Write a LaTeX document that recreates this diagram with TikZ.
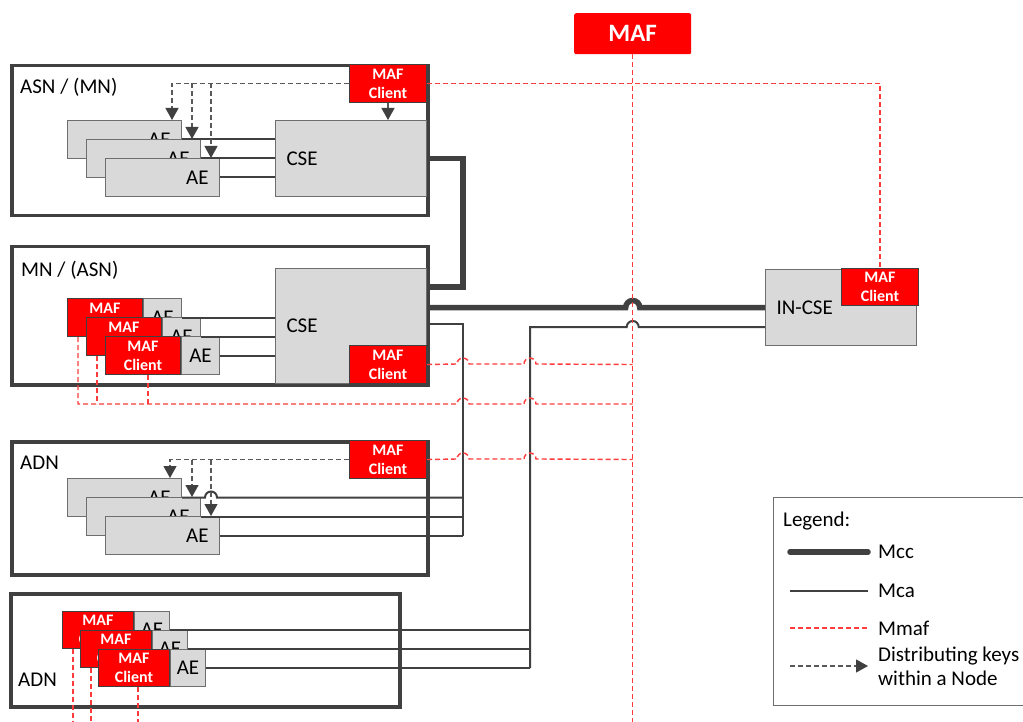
\documentclass[tikz,border=0pt]{standalone}
\usepackage{fontspec}
\setmainfont{Carlito}
\usetikzlibrary{arrows.meta,positioning,calc}

\definecolor{linegray}{HTML}{404040}
\definecolor{edgegray}{HTML}{6E6E6E}
\definecolor{boxgray}{HTML}{D9D9D9}
\definecolor{mafred}{HTML}{FF0000}
\definecolor{mmafred}{HTML}{FF3B3B}
\definecolor{keygray}{HTML}{595959}
\newcommand\mafclientfont{\fontsize{16}{19}\selectfont\bfseries}

\tikzset{
  nodebox/.style={draw=linegray, line width=3.5pt, anchor=north west, inner sep=0pt},
  csebox/.style={draw=edgegray, fill=boxgray, line width=1pt, anchor=north west,
    text width=129pt, inner xsep=11pt, inner ysep=0pt, align=left},
  aebox/.style={draw=edgegray, fill=boxgray, line width=1pt, anchor=north west,
    text width=92pt, inner xsep=11pt, inner ysep=0pt, minimum height=38pt, align=right},
  aesmall/.style={draw=edgegray, fill=boxgray, line width=1pt, anchor=north west,
    inner sep=0pt, minimum width=38pt, minimum height=38pt},
  mafae/.style={draw=linegray, fill=mafred, text=white, line width=1pt, anchor=north west,
    inner sep=0pt, minimum width=75pt, minimum height=38pt, align=center, font=\mafclientfont},
  mafclient/.style={mafae, minimum width=77pt},
  nodelabel/.style={anchor=west, inner sep=0pt},
  mcc/.style={draw=linegray, line width=5.5pt},
  mca/.style={draw=linegray, line width=2pt},
  mmaf/.style={draw=mmafred, line width=1.4pt, dash pattern=on 5pt off 3pt},
  keyline/.style={draw=keygray, line width=1.2pt, dash pattern=on 5pt off 3pt,
    -{Triangle[length=12pt,width=13pt,fill=linegray,color=linegray]}}
}

\begin{document}
\begin{tikzpicture}[x=1pt,y=-1pt,font=\fontsize{21}{24}\selectfont]
\useasboundingbox (0,0) rectangle (1023,722);

% MAF
\node[fill=mafred, rounded corners=2pt, anchor=north west, minimum width=117pt, minimum height=41pt,
  text=white, font=\fontsize{25}{28}\selectfont\bfseries] (maf) at (574,13) {MAF};
\coordinate (busa) at (463,0);
\coordinate (busb) at (530,0);

% ASN / (MN)
\node[nodebox, minimum width=416pt, minimum height=150pt] (asn) at (10,64) {};
\node[nodelabel] (asnlabel) at (20,87) {ASN / (MN)};
\node[csebox, minimum height=76pt] (cse1) at (275,120) {CSE};
\node[aebox] (ae1) at (67,120) {AE};
\node[aebox] (ae2) at (86,139) {AE};
\node[aebox] (ae3) at (105,158) {AE};
\node[mafclient] (mc1) at (349,64) {MAF\\Client};
\draw[mca] (ae1.east) -- (ae1.east -| cse1.west);
\draw[mca] (ae2.east) -- (ae2.east -| cse1.west);
\draw[mca] (ae3.east) -- (ae3.east -| cse1.west);
\coordinate (k1) at ([xshift=-10pt]ae1.north east);
\coordinate (k2) at ([xshift=-9pt]ae2.north east);
\coordinate (k3) at ([xshift=-9pt]ae3.north east);
\draw[keyline] (mc1.west) -| (k1);
\draw[keyline] (k2 |- mc1.west) -- (k2);
\draw[keyline] (k3 |- mc1.west) -- (k3);
\draw[keyline] (mc1.south) -- (mc1.south |- cse1.north);

% MN / (ASN)
\node[nodebox, minimum width=416pt, minimum height=138pt] (mn) at (10,245) {};
\node[nodelabel] (mnlabel) at (21,270) {MN / (ASN)};
\node[csebox, minimum height=115pt] (cse2) at (275,268) {CSE};
\node[mafclient] (mc2) at (349,345) {MAF\\Client};
\node[mafae] (mr1) at (67,298) {MAF\\Client};
\node[aesmall, right=0pt of mr1] (me1) {AE};
\node[mafae] (mr2) at (86,317) {MAF\\Client};
\node[aesmall, right=0pt of mr2] (me2) {AE};
\node[mafae] (mr3) at (105,336) {MAF\\Client};
\node[aesmall, right=0pt of mr3] (me3) {AE};
\draw[mca] (me1.east) -- (me1.east -| cse2.west);
\draw[mca] (me2.east) -- (me2.east -| cse2.west);
\draw[mca] (me3.east) -- (me3.east -| cse2.west);
\coordinate (mcctwo) at ([yshift=-19pt]cse2.north east);
\draw[mcc] (cse1.east) -| (busa |- mcctwo) -- (mcctwo);

% ADN
\node[nodebox, minimum width=416pt, minimum height=133pt] (adn) at (10,440) {};
\node[nodelabel] (adnlabel) at (20,463) {ADN};
\node[aebox] (de1) at (67,478) {AE};
\node[aebox] (de2) at (86,497) {AE};
\node[aebox] (de3) at (105,516) {AE};
\node[mafclient] (mc3) at (349,440) {MAF\\Client};
\coordinate (k4) at ([xshift=-12pt]de1.north east);
\coordinate (k5) at ([xshift=-9pt]de2.north east);
\coordinate (k6) at ([xshift=-9pt]de3.north east);
\coordinate (hopk) at (k6 |- de1.east);
\draw[mca] (de1.east) -- ([xshift=-6pt]hopk) arc[start angle=180, end angle=0, radius=6pt] -- (de1.east -| busa);
\draw[mca] (de2.east) -- (de2.east -| busa);
\draw[mca] (de3.east) -- (de3.east -| busa);
\draw[keyline] (mc3.west) -| (k4);
\draw[keyline] (k5 |- mc3.west) -- (k5);
\draw[keyline] (k6 |- mc3.west) -- (k6);

% ADN (bottom)
\node[nodebox, minimum width=389pt, minimum height=113pt] (adnb) at (9,592) {};
\node[nodelabel] (adnblabel) at (18,680) {ADN};
\node[mafae, minimum width=71pt, minimum height=37pt] (br1) at (62,611) {MAF\\Client};
\node[aesmall, minimum width=35pt, minimum height=37pt, right=0pt of br1] (be1) {AE};
\node[mafae, minimum width=71pt, minimum height=37pt] (br2) at (80,630) {MAF\\Client};
\node[aesmall, minimum width=35pt, minimum height=37pt, right=0pt of br2] (be2) {AE};
\node[mafae, minimum width=71pt, minimum height=37pt] (br3) at (98,649) {MAF\\Client};
\node[aesmall, minimum width=35pt, minimum height=37pt, right=0pt of br3] (be3) {AE};
\draw[mca] (be1.east) -- (be1.east -| busb);
\draw[mca] (be2.east) -- (be2.east -| busb);
\draw[mca] (be3.east) -- (be3.east -| busb);

% IN
\node[csebox, minimum height=76pt] (incse) at (765,269) {IN-CSE};
\node[mafclient, minimum height=37pt] (mc4) at (841,268) {MAF\\Client};

% Mcc / Mca to IN-CSE
\coordinate (hopcc) at (incse.west -| maf.south);
\draw[mcc] (incse.west -| cse2.east) -- ([xshift=-7pt]hopcc) arc[start angle=180, end angle=0, radius=7pt] -- (incse.west);
\coordinate (incsemca) at ([yshift=19pt]incse.south west);
\coordinate (hopca) at (incsemca -| maf.south);
\draw[mca] (incsemca) -- ([xshift=6pt]hopca) arc[start angle=0, end angle=180, radius=6pt] -- (hopca -| busb) -- (busb |- be3.east);
\coordinate (csemca) at ([yshift=-56pt]cse2.north east);
\draw[mca] (csemca) -| (busa |- de3.east);

% Mmaf
\draw[mmaf] (maf.south) -- (maf.south |- 0,722);
\draw[mmaf] (mc1.east) -| (mc4.north);
\draw[mmaf] (mc2.east) -- (457,364) arc[start angle=180, end angle=0, radius=6pt]
  -- (524,364) arc[start angle=180, end angle=0, radius=6pt] -- (mc2.east -| maf.south);
\draw[mmaf] (mc3.east) -- (457,459) arc[start angle=180, end angle=0, radius=6pt]
  -- (524,459) arc[start angle=180, end angle=0, radius=6pt] -- (mc3.east -| maf.south);
\coordinate (md1) at ([xshift=11pt]mr1.south west);
\coordinate (md2) at ([xshift=11pt]mr2.south west);
\coordinate (md3) at ([xshift=5pt]mr3.south);
\draw[mmaf] (md1) |- (457,404) arc[start angle=180, end angle=0, radius=6pt]
  -- (524,404) arc[start angle=180, end angle=0, radius=6pt] -- (maf.south |- 0,404);
\draw[mmaf] (md2) -- (md2 |- 0,404);
\draw[mmaf] (md3) -- (md3 |- 0,404);
\coordinate (bd1) at ([xshift=11pt]br1.south west);
\coordinate (bd2) at ([xshift=11pt]br2.south west);
\coordinate (bd3) at ([xshift=4pt]br3.south);
\draw[mmaf] (bd1) -- (bd1 |- 0,722);
\draw[mmaf] (bd2) -- (bd2 |- 0,722);
\draw[mmaf] (bd3) -- (bd3 |- 0,722);

% Legend
\node[draw=edgegray, line width=1pt, anchor=north west, inner sep=0pt,
  minimum width=260pt, minimum height=208pt] (legend) at (773,497) {};
\node[nodelabel] (legtitle) at (783,521) {Legend:};
\node[nodelabel] (lmcc) at (878,552) {Mcc};
\node[nodelabel] (lmca) at (878,591) {Mca};
\node[nodelabel] (lmmaf) at (878,628) {Mmaf};
\node[nodelabel, align=left] (lkey) at (878,666) {Distributing keys\\within a Node};
\draw[mcc, line cap=round] ([xshift=-88pt]lmcc.west) -- ([xshift=-10pt]lmcc.west);
\draw[mca] ([xshift=-88pt]lmca.west) -- ([xshift=-10pt]lmca.west);
\draw[mmaf] ([xshift=-88pt]lmmaf.west) -- ([xshift=-10pt]lmmaf.west);
\draw[keyline] ([xshift=-88pt]lkey.west) -- ([xshift=-10pt]lkey.west);
\end{tikzpicture}
\end{document}
